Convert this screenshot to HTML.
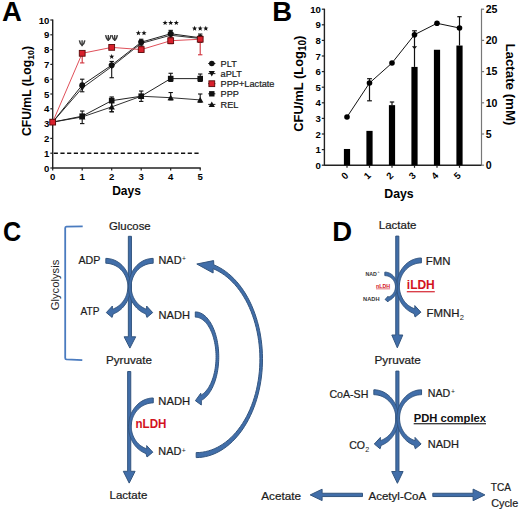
<!DOCTYPE html>
<html><head><meta charset="utf-8"><style>
html,body{margin:0;padding:0;background:#fff;overflow:hidden;width:520px;height:511px;}
svg{display:block;}
text{font-family:"Liberation Sans", sans-serif;}
</style></head><body>
<svg width="520" height="511" viewBox="0 0 520 511" font-family='"Liberation Sans", sans-serif'>
<rect width="520" height="511" fill="#fff"/>
<line x1="52.7" y1="19.5" x2="52.7" y2="168.6" stroke="#222" stroke-width="1.4"/>
<line x1="52.1" y1="168.0" x2="200.79999999999998" y2="168.0" stroke="#222" stroke-width="1.4"/>
<line x1="50.300000000000004" y1="168.0" x2="52.7" y2="168.0" stroke="#222" stroke-width="1.2"/>
<text x="49.400000000000006" y="171.5" text-anchor="end" font-weight="bold" font-size="9.6">0</text>
<line x1="50.300000000000004" y1="153.2" x2="52.7" y2="153.2" stroke="#222" stroke-width="1.2"/>
<text x="49.400000000000006" y="156.7" text-anchor="end" font-weight="bold" font-size="9.6">1</text>
<line x1="50.300000000000004" y1="138.4" x2="52.7" y2="138.4" stroke="#222" stroke-width="1.2"/>
<text x="49.400000000000006" y="141.9" text-anchor="end" font-weight="bold" font-size="9.6">2</text>
<line x1="50.300000000000004" y1="123.6" x2="52.7" y2="123.6" stroke="#222" stroke-width="1.2"/>
<text x="49.400000000000006" y="127.1" text-anchor="end" font-weight="bold" font-size="9.6">3</text>
<line x1="50.300000000000004" y1="108.8" x2="52.7" y2="108.8" stroke="#222" stroke-width="1.2"/>
<text x="49.400000000000006" y="112.3" text-anchor="end" font-weight="bold" font-size="9.6">4</text>
<line x1="50.300000000000004" y1="94.0" x2="52.7" y2="94.0" stroke="#222" stroke-width="1.2"/>
<text x="49.400000000000006" y="97.5" text-anchor="end" font-weight="bold" font-size="9.6">5</text>
<line x1="50.300000000000004" y1="79.19999999999999" x2="52.7" y2="79.19999999999999" stroke="#222" stroke-width="1.2"/>
<text x="49.400000000000006" y="82.69999999999999" text-anchor="end" font-weight="bold" font-size="9.6">6</text>
<line x1="50.300000000000004" y1="64.39999999999999" x2="52.7" y2="64.39999999999999" stroke="#222" stroke-width="1.2"/>
<text x="49.400000000000006" y="67.89999999999999" text-anchor="end" font-weight="bold" font-size="9.6">7</text>
<line x1="50.300000000000004" y1="49.599999999999994" x2="52.7" y2="49.599999999999994" stroke="#222" stroke-width="1.2"/>
<text x="49.400000000000006" y="53.099999999999994" text-anchor="end" font-weight="bold" font-size="9.6">8</text>
<line x1="50.300000000000004" y1="34.79999999999998" x2="52.7" y2="34.79999999999998" stroke="#222" stroke-width="1.2"/>
<text x="49.400000000000006" y="38.29999999999998" text-anchor="end" font-weight="bold" font-size="9.6">9</text>
<line x1="50.300000000000004" y1="20.0" x2="52.7" y2="20.0" stroke="#222" stroke-width="1.2"/>
<text x="49.400000000000006" y="23.5" text-anchor="end" font-weight="bold" font-size="9.6">10</text>
<line x1="52.7" y1="168.0" x2="52.7" y2="170.4" stroke="#222" stroke-width="1.2"/>
<text x="52.7" y="180.2" text-anchor="middle" font-weight="bold" font-size="9.6">0</text>
<line x1="82.2" y1="168.0" x2="82.2" y2="170.4" stroke="#222" stroke-width="1.2"/>
<text x="82.2" y="180.2" text-anchor="middle" font-weight="bold" font-size="9.6">1</text>
<line x1="111.7" y1="168.0" x2="111.7" y2="170.4" stroke="#222" stroke-width="1.2"/>
<text x="111.7" y="180.2" text-anchor="middle" font-weight="bold" font-size="9.6">2</text>
<line x1="141.2" y1="168.0" x2="141.2" y2="170.4" stroke="#222" stroke-width="1.2"/>
<text x="141.2" y="180.2" text-anchor="middle" font-weight="bold" font-size="9.6">3</text>
<line x1="170.7" y1="168.0" x2="170.7" y2="170.4" stroke="#222" stroke-width="1.2"/>
<text x="170.7" y="180.2" text-anchor="middle" font-weight="bold" font-size="9.6">4</text>
<line x1="200.2" y1="168.0" x2="200.2" y2="170.4" stroke="#222" stroke-width="1.2"/>
<text x="200.2" y="180.2" text-anchor="middle" font-weight="bold" font-size="9.6">5</text>
<line x1="53.7" y1="153.2" x2="200.2" y2="153.2" stroke="#111" stroke-width="1.35" stroke-dasharray="4.2 2.5"/>
<text x="126.5" y="195.3" text-anchor="middle" font-weight="bold" font-size="12">Days</text>
<text transform="translate(31.2,91.05) rotate(-90)" text-anchor="middle" font-weight="bold" font-size="12.2">CFU/mL (Log<tspan font-size="8.8" dy="2.5">10</tspan><tspan dy="-2.5">)</tspan></text>
<line x1="82.2" y1="91.77999999999999" x2="82.2" y2="79.19999999999999" stroke="#111" stroke-width="1.1"/><line x1="80.0" y1="91.77999999999999" x2="84.4" y2="91.77999999999999" stroke="#111" stroke-width="1.1"/><line x1="80.0" y1="79.19999999999999" x2="84.4" y2="79.19999999999999" stroke="#111" stroke-width="1.1"/>
<line x1="111.7" y1="77.72" x2="111.7" y2="61.44" stroke="#111" stroke-width="1.1"/><line x1="109.5" y1="77.72" x2="113.9" y2="77.72" stroke="#111" stroke-width="1.1"/><line x1="109.5" y1="61.44" x2="113.9" y2="61.44" stroke="#111" stroke-width="1.1"/>
<line x1="141.2" y1="45.15999999999998" x2="141.2" y2="39.24000000000001" stroke="#111" stroke-width="1.1"/><line x1="139.0" y1="45.15999999999998" x2="143.39999999999998" y2="45.15999999999998" stroke="#111" stroke-width="1.1"/><line x1="139.0" y1="39.24000000000001" x2="143.39999999999998" y2="39.24000000000001" stroke="#111" stroke-width="1.1"/>
<line x1="170.7" y1="37.75999999999999" x2="170.7" y2="30.359999999999985" stroke="#111" stroke-width="1.1"/><line x1="168.5" y1="37.75999999999999" x2="172.89999999999998" y2="37.75999999999999" stroke="#111" stroke-width="1.1"/><line x1="168.5" y1="30.359999999999985" x2="172.89999999999998" y2="30.359999999999985" stroke="#111" stroke-width="1.1"/>
<line x1="200.2" y1="42.19999999999999" x2="200.2" y2="34.059999999999974" stroke="#111" stroke-width="1.1"/><line x1="198.0" y1="42.19999999999999" x2="202.39999999999998" y2="42.19999999999999" stroke="#111" stroke-width="1.1"/><line x1="198.0" y1="34.059999999999974" x2="202.39999999999998" y2="34.059999999999974" stroke="#111" stroke-width="1.1"/>
<line x1="82.2" y1="123.6" x2="82.2" y2="111.02" stroke="#111" stroke-width="1.1"/><line x1="80.0" y1="123.6" x2="84.4" y2="123.6" stroke="#111" stroke-width="1.1"/><line x1="80.0" y1="111.02" x2="84.4" y2="111.02" stroke="#111" stroke-width="1.1"/>
<line x1="111.7" y1="111.75999999999999" x2="111.7" y2="96.96" stroke="#111" stroke-width="1.1"/><line x1="109.5" y1="111.75999999999999" x2="113.9" y2="111.75999999999999" stroke="#111" stroke-width="1.1"/><line x1="109.5" y1="96.96" x2="113.9" y2="96.96" stroke="#111" stroke-width="1.1"/>
<line x1="141.2" y1="101.39999999999999" x2="141.2" y2="91.03999999999999" stroke="#111" stroke-width="1.1"/><line x1="139.0" y1="101.39999999999999" x2="143.39999999999998" y2="101.39999999999999" stroke="#111" stroke-width="1.1"/><line x1="139.0" y1="91.03999999999999" x2="143.39999999999998" y2="91.03999999999999" stroke="#111" stroke-width="1.1"/>
<line x1="170.7" y1="81.42" x2="170.7" y2="73.27999999999999" stroke="#111" stroke-width="1.1"/><line x1="168.5" y1="81.42" x2="172.89999999999998" y2="81.42" stroke="#111" stroke-width="1.1"/><line x1="168.5" y1="73.27999999999999" x2="172.89999999999998" y2="73.27999999999999" stroke="#111" stroke-width="1.1"/>
<line x1="200.2" y1="81.42" x2="200.2" y2="74.02" stroke="#111" stroke-width="1.1"/><line x1="198.0" y1="81.42" x2="202.39999999999998" y2="81.42" stroke="#111" stroke-width="1.1"/><line x1="198.0" y1="74.02" x2="202.39999999999998" y2="74.02" stroke="#111" stroke-width="1.1"/>
<line x1="170.7" y1="99.92" x2="170.7" y2="92.52" stroke="#111" stroke-width="1.1"/><line x1="168.5" y1="99.92" x2="172.89999999999998" y2="99.92" stroke="#111" stroke-width="1.1"/><line x1="168.5" y1="92.52" x2="172.89999999999998" y2="92.52" stroke="#111" stroke-width="1.1"/>
<line x1="200.2" y1="102.14" x2="200.2" y2="94.0" stroke="#111" stroke-width="1.1"/><line x1="198.0" y1="102.14" x2="202.39999999999998" y2="102.14" stroke="#111" stroke-width="1.1"/><line x1="198.0" y1="94.0" x2="202.39999999999998" y2="94.0" stroke="#111" stroke-width="1.1"/>
<line x1="111.7" y1="111.75999999999999" x2="111.7" y2="98.44" stroke="#111" stroke-width="1.1"/><line x1="109.5" y1="111.75999999999999" x2="113.9" y2="111.75999999999999" stroke="#111" stroke-width="1.1"/><line x1="109.5" y1="98.44" x2="113.9" y2="98.44" stroke="#111" stroke-width="1.1"/>
<line x1="82.2" y1="62.92" x2="82.2" y2="53.3" stroke="#d0303a" stroke-width="1.1"/><line x1="80.0" y1="62.92" x2="84.4" y2="62.92" stroke="#d0303a" stroke-width="1.1"/><line x1="80.0" y1="53.3" x2="84.4" y2="53.3" stroke="#d0303a" stroke-width="1.1"/>
<line x1="141.2" y1="51.81999999999999" x2="141.2" y2="46.64" stroke="#d0303a" stroke-width="1.1"/><line x1="139.0" y1="51.81999999999999" x2="143.39999999999998" y2="51.81999999999999" stroke="#d0303a" stroke-width="1.1"/><line x1="139.0" y1="46.64" x2="143.39999999999998" y2="46.64" stroke="#d0303a" stroke-width="1.1"/>
<line x1="170.7" y1="43.67999999999999" x2="170.7" y2="37.02000000000001" stroke="#d0303a" stroke-width="1.1"/><line x1="168.5" y1="43.67999999999999" x2="172.89999999999998" y2="43.67999999999999" stroke="#d0303a" stroke-width="1.1"/><line x1="168.5" y1="37.02000000000001" x2="172.89999999999998" y2="37.02000000000001" stroke="#d0303a" stroke-width="1.1"/>
<line x1="200.2" y1="54.77999999999999" x2="200.2" y2="36.28" stroke="#d0303a" stroke-width="1.1"/><line x1="198.0" y1="54.77999999999999" x2="202.39999999999998" y2="54.77999999999999" stroke="#d0303a" stroke-width="1.1"/><line x1="198.0" y1="36.28" x2="202.39999999999998" y2="36.28" stroke="#d0303a" stroke-width="1.1"/>
<polyline points="52.70,122.12 82.20,116.94 111.70,106.88 141.20,96.22 170.70,97.70 200.20,99.92" fill="none" stroke="#333" stroke-width="1.0"/>
<polyline points="52.70,122.12 82.20,116.20 111.70,100.66 141.20,96.22 170.70,78.61 200.20,78.61" fill="none" stroke="#222" stroke-width="1.0"/>
<polyline points="52.70,122.12 82.20,88.08 111.70,66.62 141.20,43.38 170.70,35.24 200.20,38.50" fill="none" stroke="#333" stroke-width="1.0"/>
<polyline points="52.70,122.12 82.20,85.12 111.70,65.14 141.20,42.20 170.70,33.76 200.20,37.76" fill="none" stroke="#222" stroke-width="1.0"/>
<polyline points="52.70,122.12 82.20,53.30 111.70,47.38 141.20,49.60 170.70,40.72 200.20,39.24" fill="none" stroke="#e0505a" stroke-width="1.0"/>
<path d="M49.5,124.72 L55.900000000000006,124.72 L52.7,119.12 Z" fill="#111"/>
<path d="M79.0,119.53999999999999 L85.4,119.53999999999999 L82.2,113.94 Z" fill="#111"/>
<path d="M108.5,109.476 L114.9,109.476 L111.7,103.876 Z" fill="#111"/>
<path d="M138.0,98.82 L144.39999999999998,98.82 L141.2,93.22 Z" fill="#111"/>
<path d="M167.5,100.3 L173.89999999999998,100.3 L170.7,94.7 Z" fill="#111"/>
<path d="M197.0,102.52 L203.39999999999998,102.52 L200.2,96.92 Z" fill="#111"/>
<rect x="49.900000000000006" y="119.32000000000001" width="5.6" height="5.6" fill="#111"/>
<rect x="79.4" y="113.39999999999999" width="5.6" height="5.6" fill="#111"/>
<rect x="108.9" y="97.86" width="5.6" height="5.6" fill="#111"/>
<rect x="138.39999999999998" y="93.42" width="5.6" height="5.6" fill="#111"/>
<rect x="167.89999999999998" y="75.80799999999999" width="5.6" height="5.6" fill="#111"/>
<rect x="197.39999999999998" y="75.80799999999999" width="5.6" height="5.6" fill="#111"/>
<circle cx="52.7" cy="122.12" r="2.9" fill="#111"/>
<circle cx="82.2" cy="85.12" r="2.9" fill="#111"/>
<circle cx="111.7" cy="65.13999999999999" r="2.9" fill="#111"/>
<circle cx="141.2" cy="42.19999999999999" r="2.9" fill="#111"/>
<circle cx="170.7" cy="33.76399999999998" r="2.9" fill="#111"/>
<circle cx="200.2" cy="37.75999999999999" r="2.9" fill="#111"/>
<path d="M49.5,119.52000000000001 L55.900000000000006,119.52000000000001 L52.7,125.12 Z" fill="#111"/>
<path d="M79.0,85.47999999999999 L85.4,85.47999999999999 L82.2,91.07999999999998 Z" fill="#111"/>
<path d="M108.5,64.02000000000001 L114.9,64.02000000000001 L111.7,69.62 Z" fill="#111"/>
<path d="M138.0,40.784 L144.39999999999998,40.784 L141.2,46.384 Z" fill="#111"/>
<path d="M167.5,32.64399999999997 L173.89999999999998,32.64399999999997 L170.7,38.24399999999997 Z" fill="#111"/>
<path d="M197.0,35.9 L203.39999999999998,35.9 L200.2,41.5 Z" fill="#111"/>
<rect x="49.800000000000004" y="119.22" width="5.8" height="5.8" fill="#d8202c" stroke="#5a0a0a" stroke-width="0.9"/>
<rect x="79.3" y="50.4" width="5.8" height="5.8" fill="#d8202c" stroke="#5a0a0a" stroke-width="0.9"/>
<rect x="108.8" y="44.48" width="5.8" height="5.8" fill="#d8202c" stroke="#5a0a0a" stroke-width="0.9"/>
<rect x="138.29999999999998" y="46.699999999999996" width="5.8" height="5.8" fill="#d8202c" stroke="#5a0a0a" stroke-width="0.9"/>
<rect x="167.79999999999998" y="37.82" width="5.8" height="5.8" fill="#d8202c" stroke="#5a0a0a" stroke-width="0.9"/>
<rect x="197.29999999999998" y="36.34000000000001" width="5.8" height="5.8" fill="#d8202c" stroke="#5a0a0a" stroke-width="0.9"/>
<path d="M79.40,40.30 Q79.90,43.80 82.10,45.20 Q84.30,43.80 84.80,40.30" fill="none" stroke="#3c3c3c" stroke-width="1.5"/><line x1="82.10" y1="40.20" x2="82.10" y2="46.30" stroke="#3c3c3c" stroke-width="1.4"/>
<path d="M105.60,35.10 Q106.10,38.60 108.30,40.00 Q110.50,38.60 111.00,35.10" fill="none" stroke="#3c3c3c" stroke-width="1.5"/><line x1="108.30" y1="35.00" x2="108.30" y2="41.10" stroke="#3c3c3c" stroke-width="1.4"/>
<path d="M112.00,35.10 Q112.50,38.60 114.70,40.00 Q116.90,38.60 117.40,35.10" fill="none" stroke="#3c3c3c" stroke-width="1.5"/><line x1="114.70" y1="35.00" x2="114.70" y2="41.10" stroke="#3c3c3c" stroke-width="1.4"/>
<polygon points="111.70,53.95 112.38,55.77 114.32,55.85 112.79,57.06 113.32,58.92 111.70,57.85 110.08,58.92 110.61,57.06 109.08,55.85 111.02,55.77" fill="#111"/>
<polygon points="138.40,30.35 139.08,32.17 141.02,32.25 139.49,33.46 140.02,35.32 138.40,34.25 136.78,35.32 137.31,33.46 135.78,32.25 137.72,32.17" fill="#111"/><polygon points="144.00,30.35 144.68,32.17 146.62,32.25 145.09,33.46 145.62,35.32 144.00,34.25 142.38,35.32 142.91,33.46 141.38,32.25 143.32,32.17" fill="#111"/>
<polygon points="165.10,20.15 165.78,21.97 167.72,22.05 166.19,23.26 166.72,25.12 165.10,24.05 163.48,25.12 164.01,23.26 162.48,22.05 164.42,21.97" fill="#111"/><polygon points="170.70,20.15 171.38,21.97 173.32,22.05 171.79,23.26 172.32,25.12 170.70,24.05 169.08,25.12 169.61,23.26 168.08,22.05 170.02,21.97" fill="#111"/><polygon points="176.30,20.15 176.98,21.97 178.92,22.05 177.39,23.26 177.92,25.12 176.30,24.05 174.68,25.12 175.21,23.26 173.68,22.05 175.62,21.97" fill="#111"/>
<polygon points="194.60,25.75 195.28,27.57 197.22,27.65 195.69,28.86 196.22,30.72 194.60,29.65 192.98,30.72 193.51,28.86 191.98,27.65 193.92,27.57" fill="#111"/><polygon points="200.20,25.75 200.88,27.57 202.82,27.65 201.29,28.86 201.82,30.72 200.20,29.65 198.58,30.72 199.11,28.86 197.58,27.65 199.52,27.57" fill="#111"/><polygon points="205.80,25.75 206.48,27.57 208.42,27.65 206.89,28.86 207.42,30.72 205.80,29.65 204.18,30.72 204.71,28.86 203.18,27.65 205.12,27.57" fill="#111"/>
<line x1="208.20000000000002" y1="63.5" x2="215.4" y2="63.5" stroke="#222" stroke-width="1"/>
<text x="220.6" y="66.8" font-size="9.2" fill="#1a1a1a" stroke="#1a1a1a" stroke-width="0.2">PLT</text>
<line x1="208.20000000000002" y1="73.6" x2="215.4" y2="73.6" stroke="#222" stroke-width="1"/>
<text x="220.6" y="76.89999999999999" font-size="9.2" fill="#1a1a1a" stroke="#1a1a1a" stroke-width="0.2">aPLT</text>
<line x1="208.20000000000002" y1="83.7" x2="215.4" y2="83.7" stroke="#222" stroke-width="1"/>
<text x="220.6" y="87.0" font-size="9.2" fill="#1a1a1a" stroke="#1a1a1a" stroke-width="0.2">PPP+Lactate</text>
<line x1="208.20000000000002" y1="93.8" x2="215.4" y2="93.8" stroke="#222" stroke-width="1"/>
<text x="220.6" y="97.1" font-size="9.2" fill="#1a1a1a" stroke="#1a1a1a" stroke-width="0.2">PPP</text>
<line x1="208.20000000000002" y1="104.4" x2="215.4" y2="104.4" stroke="#222" stroke-width="1"/>
<text x="220.6" y="107.7" font-size="9.2" fill="#1a1a1a" stroke="#1a1a1a" stroke-width="0.2">REL</text>
<circle cx="211.8" cy="63.5" r="2.8" fill="#111"/>
<path d="M208.70000000000002,71.1 L214.9,71.1 L211.8,76.5 Z" fill="#111"/>
<rect x="208.9" y="80.8" width="5.8" height="5.8" fill="#d8202c" stroke="#5a0a0a" stroke-width="0.9"/>
<rect x="209.10000000000002" y="91.1" width="5.4" height="5.4" fill="#111"/>
<path d="M208.70000000000002,106.9 L214.9,106.9 L211.8,101.5 Z" fill="#111"/>
<text x="2.0" y="21.2" font-size="27.5" font-weight="bold">A</text>
<line x1="324.4" y1="8.699999999999989" x2="324.4" y2="165.79999999999998" stroke="#222" stroke-width="1.4"/>
<line x1="481.5" y1="8.699999999999989" x2="481.5" y2="165.79999999999998" stroke="#777" stroke-width="1.2"/>
<line x1="324.4" y1="165.2" x2="481.5" y2="165.2" stroke="#222" stroke-width="1.4"/>
<line x1="321.79999999999995" y1="165.2" x2="324.4" y2="165.2" stroke="#222" stroke-width="1.2"/>
<text x="320.9" y="168.7" text-anchor="end" font-weight="bold" font-size="9.6">0</text>
<line x1="321.79999999999995" y1="149.6" x2="324.4" y2="149.6" stroke="#222" stroke-width="1.2"/>
<text x="320.9" y="153.1" text-anchor="end" font-weight="bold" font-size="9.6">1</text>
<line x1="321.79999999999995" y1="134.0" x2="324.4" y2="134.0" stroke="#222" stroke-width="1.2"/>
<text x="320.9" y="137.5" text-anchor="end" font-weight="bold" font-size="9.6">2</text>
<line x1="321.79999999999995" y1="118.39999999999999" x2="324.4" y2="118.39999999999999" stroke="#222" stroke-width="1.2"/>
<text x="320.9" y="121.89999999999999" text-anchor="end" font-weight="bold" font-size="9.6">3</text>
<line x1="321.79999999999995" y1="102.79999999999998" x2="324.4" y2="102.79999999999998" stroke="#222" stroke-width="1.2"/>
<text x="320.9" y="106.29999999999998" text-anchor="end" font-weight="bold" font-size="9.6">4</text>
<line x1="321.79999999999995" y1="87.19999999999999" x2="324.4" y2="87.19999999999999" stroke="#222" stroke-width="1.2"/>
<text x="320.9" y="90.69999999999999" text-anchor="end" font-weight="bold" font-size="9.6">5</text>
<line x1="321.79999999999995" y1="71.6" x2="324.4" y2="71.6" stroke="#222" stroke-width="1.2"/>
<text x="320.9" y="75.1" text-anchor="end" font-weight="bold" font-size="9.6">6</text>
<line x1="321.79999999999995" y1="55.999999999999986" x2="324.4" y2="55.999999999999986" stroke="#222" stroke-width="1.2"/>
<text x="320.9" y="59.499999999999986" text-anchor="end" font-weight="bold" font-size="9.6">7</text>
<line x1="321.79999999999995" y1="40.39999999999999" x2="324.4" y2="40.39999999999999" stroke="#222" stroke-width="1.2"/>
<text x="320.9" y="43.89999999999999" text-anchor="end" font-weight="bold" font-size="9.6">8</text>
<line x1="321.79999999999995" y1="24.799999999999983" x2="324.4" y2="24.799999999999983" stroke="#222" stroke-width="1.2"/>
<text x="320.9" y="28.299999999999983" text-anchor="end" font-weight="bold" font-size="9.6">9</text>
<line x1="321.79999999999995" y1="9.199999999999989" x2="324.4" y2="9.199999999999989" stroke="#222" stroke-width="1.2"/>
<text x="320.9" y="12.699999999999989" text-anchor="end" font-weight="bold" font-size="9.6">10</text>
<line x1="481.5" y1="165.2" x2="484.1" y2="165.2" stroke="#777" stroke-width="1.2"/>
<text x="485.7" y="168.89999999999998" font-weight="bold" font-size="10.6">0</text>
<line x1="481.5" y1="134.0" x2="484.1" y2="134.0" stroke="#777" stroke-width="1.2"/>
<text x="485.7" y="137.7" font-weight="bold" font-size="10.6">5</text>
<line x1="481.5" y1="102.79999999999998" x2="484.1" y2="102.79999999999998" stroke="#777" stroke-width="1.2"/>
<text x="485.7" y="106.49999999999999" font-weight="bold" font-size="10.6">10</text>
<line x1="481.5" y1="71.6" x2="484.1" y2="71.6" stroke="#777" stroke-width="1.2"/>
<text x="485.7" y="75.3" font-weight="bold" font-size="10.6">15</text>
<line x1="481.5" y1="40.39999999999999" x2="484.1" y2="40.39999999999999" stroke="#777" stroke-width="1.2"/>
<text x="485.7" y="44.099999999999994" font-weight="bold" font-size="10.6">20</text>
<line x1="481.5" y1="9.199999999999989" x2="484.1" y2="9.199999999999989" stroke="#777" stroke-width="1.2"/>
<text x="485.7" y="12.899999999999988" font-weight="bold" font-size="10.6">25</text>
<line x1="347.0" y1="165.2" x2="347.0" y2="167.79999999999998" stroke="#222" stroke-width="1.2"/>
<text transform="translate(347.2,178.2) rotate(-45)" text-anchor="middle" font-weight="bold" font-size="9.6">0</text>
<line x1="369.5" y1="165.2" x2="369.5" y2="167.79999999999998" stroke="#222" stroke-width="1.2"/>
<text transform="translate(369.7,178.2) rotate(-45)" text-anchor="middle" font-weight="bold" font-size="9.6">1</text>
<line x1="392.0" y1="165.2" x2="392.0" y2="167.79999999999998" stroke="#222" stroke-width="1.2"/>
<text transform="translate(392.2,178.2) rotate(-45)" text-anchor="middle" font-weight="bold" font-size="9.6">2</text>
<line x1="414.5" y1="165.2" x2="414.5" y2="167.79999999999998" stroke="#222" stroke-width="1.2"/>
<text transform="translate(414.7,178.2) rotate(-45)" text-anchor="middle" font-weight="bold" font-size="9.6">3</text>
<line x1="437.0" y1="165.2" x2="437.0" y2="167.79999999999998" stroke="#222" stroke-width="1.2"/>
<text transform="translate(437.2,178.2) rotate(-45)" text-anchor="middle" font-weight="bold" font-size="9.6">4</text>
<line x1="459.5" y1="165.2" x2="459.5" y2="167.79999999999998" stroke="#222" stroke-width="1.2"/>
<text transform="translate(459.7,178.2) rotate(-45)" text-anchor="middle" font-weight="bold" font-size="9.6">5</text>
<rect x="343.9" y="148.976" width="6.2" height="16.22399999999999" fill="#000"/>
<rect x="366.4" y="130.88" width="6.2" height="34.31999999999999" fill="#000"/>
<rect x="388.9" y="105.13999999999999" width="6.2" height="60.06" fill="#000"/>
<rect x="411.4" y="66.91999999999999" width="6.2" height="98.28" fill="#000"/>
<rect x="433.9" y="49.75999999999999" width="6.2" height="115.44" fill="#000"/>
<rect x="456.4" y="45.54799999999999" width="6.2" height="119.652" fill="#000"/>
<line x1="392.0" y1="102" x2="392.0" y2="105.13999999999999" stroke="#111" stroke-width="1.2"/>
<line x1="389.8" y1="102" x2="394.2" y2="102" stroke="#111" stroke-width="1.2"/>
<line x1="414.5" y1="30.8" x2="414.5" y2="66.91999999999999" stroke="#111" stroke-width="1.2"/>
<line x1="412.1" y1="30.8" x2="416.9" y2="30.8" stroke="#111" stroke-width="1.2"/>
<path d="M411.9,46.2 L417.1,46.2 L414.5,49.2 Z" fill="#111"/>
<line x1="459.5" y1="16.7" x2="459.5" y2="45.54799999999999" stroke="#111" stroke-width="1.2"/>
<line x1="457.3" y1="16.7" x2="461.7" y2="16.7" stroke="#111" stroke-width="1.2"/>
<line x1="369.5" y1="78.7" x2="369.5" y2="100.8" stroke="#111" stroke-width="1.2"/>
<line x1="367.1" y1="78.7" x2="371.9" y2="78.7" stroke="#111" stroke-width="1.2"/>
<line x1="367.1" y1="100.8" x2="371.9" y2="100.8" stroke="#111" stroke-width="1.2"/>
<polyline points="347.00,117 369.50,83 392.00,63 414.50,34.7 437.00,23.3 459.50,28.0" fill="none" stroke="#111" stroke-width="1.0"/>
<circle cx="347.0" cy="117" r="2.8" fill="#000"/>
<circle cx="369.5" cy="83" r="2.8" fill="#000"/>
<circle cx="392.0" cy="63" r="2.8" fill="#000"/>
<circle cx="414.5" cy="34.7" r="2.8" fill="#000"/>
<circle cx="437.0" cy="23.3" r="2.8" fill="#000"/>
<circle cx="459.5" cy="28.0" r="2.8" fill="#000"/>
<text x="399" y="198.3" text-anchor="middle" font-weight="bold" font-size="12.3">Days</text>
<text transform="translate(303.4,83.7) rotate(-90)" text-anchor="middle" font-weight="bold" font-size="12.9">CFU/mL (Log<tspan font-size="10" dy="2.6">10</tspan><tspan dy="-2.6">)</tspan></text>
<text transform="translate(505.8,84.4) rotate(90)" text-anchor="middle" font-weight="bold" font-size="13.3">Lactate (mM)</text>
<text x="272.2" y="20.9" font-size="27.5" font-weight="bold">B</text>
<path d="M82.7,226.3 L66.4,226.6 Q65.2,226.7 65.2,228 L65.2,358 Q65.2,359.3 66.5,359.4 L82.3,360.2" fill="none" stroke="#4A7BBF" stroke-width="1.8"/>
<text transform="translate(58.7,310.3) rotate(-90)" font-size="11" fill="#1c1c1c" textLength="50.7" lengthAdjust="spacingAndGlyphs">Glycolysis</text>
<path d="M128.35,236.3 L131.45000000000002,236.3 L131.45000000000002,336.8 L135.70000000000002,336.8 L129.9,348.1 L124.10000000000001,336.8 L128.35,336.8 Z" fill="#416EA9" stroke="#33557F" stroke-width="1.0" stroke-linejoin="miter"/>
<path d="M105.84,258.40 L107.01,258.43 L108.18,258.53 L109.34,258.69 L110.50,258.91 L111.64,259.19 L112.77,259.54 L113.89,259.95 L114.98,260.42 L116.06,260.94 L117.12,261.53 L118.14,262.17 L119.15,262.87 L120.12,263.62 L121.06,264.42 L121.96,265.28 L122.83,266.18 L123.66,267.13 L124.45,268.12 L125.20,269.15 L125.91,270.23 L126.57,271.34 L127.18,272.48 L127.75,273.66 L128.26,274.87 L128.73,276.10 L129.15,277.36 L129.51,278.64 L129.82,279.94 L130.07,281.25 L130.28,282.58 L130.42,283.91 L130.51,285.25 L130.55,286.60 L130.53,287.94 L130.46,289.29 L130.32,290.62 L130.14,291.95 L129.90,293.27 L129.61,294.57 L129.26,295.86 L128.86,297.12 L128.41,298.36 L127.91,299.58 L127.35,300.77 L126.76,301.92 L126.11,303.04 L125.42,304.13 L124.68,305.18 L123.90,306.18 L123.08,307.14 L122.22,308.06 L121.33,308.93 L120.40,309.75 L119.44,310.51 L118.45,311.23 L117.43,311.89 L116.38,312.49 L115.31,313.03 L114.22,313.52 L113.11,313.94 L112.10,317.40 L106.30,312.60 L112.40,306.00 L112.31,309.26 L113.30,308.91 L114.27,308.51 L115.23,308.06 L116.16,307.56 L117.07,307.01 L117.95,306.42 L118.81,305.79 L119.64,305.11 L120.43,304.39 L121.20,303.63 L121.93,302.84 L122.62,302.01 L123.28,301.14 L123.89,300.24 L124.47,299.31 L125.00,298.36 L125.50,297.38 L125.94,296.37 L126.34,295.34 L126.70,294.30 L127.01,293.23 L127.27,292.15 L127.48,291.06 L127.65,289.96 L127.77,288.86 L127.83,287.75 L127.85,286.63 L127.82,285.52 L127.74,284.41 L127.61,283.31 L127.43,282.21 L127.20,281.12 L126.92,280.05 L126.60,278.99 L126.23,277.95 L125.81,276.93 L125.35,275.93 L124.85,274.95 L124.30,274.01 L123.71,273.09 L123.09,272.20 L122.42,271.34 L121.71,270.52 L120.97,269.74 L120.20,268.99 L119.39,268.28 L118.56,267.62 L117.69,267.00 L116.80,266.42 L115.88,265.89 L114.94,265.40 L113.99,264.97 L113.01,264.58 L112.01,264.24 L111.01,263.96 L109.99,263.72 L108.96,263.54 L107.92,263.41 L106.88,263.33 L105.84,263.30 Z" fill="#416EA9" stroke="#33557F" stroke-width="1.0" stroke-linejoin="round"/>
<path d="M153.16,258.40 L151.99,258.43 L150.82,258.53 L149.66,258.69 L148.50,258.91 L147.36,259.19 L146.23,259.54 L145.11,259.95 L144.02,260.42 L142.94,260.94 L141.88,261.53 L140.86,262.17 L139.85,262.87 L138.88,263.62 L137.94,264.42 L137.04,265.28 L136.17,266.18 L135.34,267.13 L134.55,268.12 L133.80,269.15 L133.09,270.23 L132.43,271.34 L131.82,272.48 L131.25,273.66 L130.74,274.87 L130.27,276.10 L129.85,277.36 L129.49,278.64 L129.18,279.94 L128.93,281.25 L128.72,282.58 L128.58,283.91 L128.49,285.25 L128.45,286.60 L128.47,287.94 L128.54,289.29 L128.68,290.62 L128.86,291.95 L129.10,293.27 L129.39,294.57 L129.74,295.86 L130.14,297.12 L130.59,298.36 L131.09,299.58 L131.65,300.77 L132.24,301.92 L132.89,303.04 L133.58,304.13 L134.32,305.18 L135.10,306.18 L135.92,307.14 L136.78,308.06 L137.67,308.93 L138.60,309.75 L139.56,310.51 L140.55,311.23 L141.57,311.89 L142.62,312.49 L143.69,313.03 L144.78,313.52 L145.89,313.94 L146.90,317.40 L152.70,312.60 L146.60,306.00 L146.69,309.26 L145.70,308.91 L144.73,308.51 L143.77,308.06 L142.84,307.56 L141.93,307.01 L141.05,306.42 L140.19,305.79 L139.36,305.11 L138.57,304.39 L137.80,303.63 L137.07,302.84 L136.38,302.01 L135.72,301.14 L135.11,300.24 L134.53,299.31 L134.00,298.36 L133.50,297.38 L133.06,296.37 L132.66,295.34 L132.30,294.30 L131.99,293.23 L131.73,292.15 L131.52,291.06 L131.35,289.96 L131.23,288.86 L131.17,287.75 L131.15,286.63 L131.18,285.52 L131.26,284.41 L131.39,283.31 L131.57,282.21 L131.80,281.12 L132.08,280.05 L132.40,278.99 L132.77,277.95 L133.19,276.93 L133.65,275.93 L134.15,274.95 L134.70,274.01 L135.29,273.09 L135.91,272.20 L136.58,271.34 L137.29,270.52 L138.03,269.74 L138.80,268.99 L139.61,268.28 L140.44,267.62 L141.31,267.00 L142.20,266.42 L143.12,265.89 L144.06,265.40 L145.01,264.97 L145.99,264.58 L146.99,264.24 L147.99,263.96 L149.01,263.72 L150.04,263.54 L151.08,263.41 L152.12,263.33 L153.16,263.30 Z" fill="#416EA9" stroke="#33557F" stroke-width="1.0" stroke-linejoin="round"/>
<path d="M127.64999999999999,371.5 L130.75,371.5 L130.75,471.3 L135.1,471.3 L129.2,483.1 L123.29999999999998,471.3 L127.64999999999999,471.3 Z" fill="#416EA9" stroke="#33557F" stroke-width="1.0" stroke-linejoin="miter"/>
<path d="M153.26,398.00 L152.09,398.03 L150.92,398.13 L149.76,398.29 L148.60,398.51 L147.46,398.79 L146.33,399.14 L145.21,399.55 L144.12,400.02 L143.04,400.54 L141.98,401.13 L140.96,401.77 L139.95,402.47 L138.98,403.22 L138.04,404.02 L137.14,404.88 L136.27,405.78 L135.44,406.73 L134.65,407.72 L133.90,408.75 L133.19,409.83 L132.53,410.94 L131.92,412.08 L131.35,413.26 L130.84,414.47 L130.37,415.70 L129.95,416.96 L129.59,418.24 L129.28,419.54 L129.03,420.85 L128.82,422.18 L128.68,423.51 L128.59,424.85 L128.55,426.20 L128.57,427.54 L128.64,428.89 L128.78,430.22 L128.96,431.55 L129.20,432.87 L129.49,434.17 L129.84,435.46 L130.24,436.72 L130.69,437.96 L131.19,439.18 L131.75,440.37 L132.34,441.52 L132.99,442.64 L133.68,443.73 L134.42,444.78 L135.20,445.78 L136.02,446.74 L136.88,447.66 L137.77,448.53 L138.70,449.35 L139.66,450.11 L140.65,450.83 L141.67,451.49 L142.72,452.09 L143.79,452.63 L144.88,453.12 L145.99,453.54 L147.00,457.00 L152.80,452.20 L146.70,445.60 L146.79,448.86 L145.80,448.51 L144.83,448.11 L143.87,447.66 L142.94,447.16 L142.03,446.61 L141.15,446.02 L140.29,445.39 L139.46,444.71 L138.67,443.99 L137.90,443.23 L137.17,442.44 L136.48,441.61 L135.82,440.74 L135.21,439.84 L134.63,438.91 L134.10,437.96 L133.60,436.98 L133.16,435.97 L132.76,434.94 L132.40,433.90 L132.09,432.83 L131.83,431.75 L131.62,430.66 L131.45,429.56 L131.33,428.46 L131.27,427.35 L131.25,426.23 L131.28,425.12 L131.36,424.01 L131.49,422.91 L131.67,421.81 L131.90,420.72 L132.18,419.65 L132.50,418.59 L132.87,417.55 L133.29,416.53 L133.75,415.53 L134.25,414.55 L134.80,413.61 L135.39,412.69 L136.01,411.80 L136.68,410.94 L137.39,410.12 L138.13,409.34 L138.90,408.59 L139.71,407.88 L140.54,407.22 L141.41,406.60 L142.30,406.02 L143.22,405.49 L144.16,405.00 L145.11,404.57 L146.09,404.18 L147.09,403.84 L148.09,403.56 L149.11,403.32 L150.14,403.14 L151.18,403.01 L152.22,402.93 L153.26,402.90 Z" fill="#416EA9" stroke="#33557F" stroke-width="1.0" stroke-linejoin="round"/>
<path d="M195.30,311.90 L196.43,311.95 L197.55,312.11 L198.66,312.37 L199.77,312.73 L200.87,313.19 L201.96,313.75 L203.03,314.42 L204.08,315.18 L205.12,316.03 L206.13,316.98 L207.11,318.03 L208.07,319.16 L209.00,320.38 L209.90,321.68 L210.76,323.07 L211.59,324.53 L212.38,326.07 L213.13,327.67 L213.84,329.35 L214.51,331.09 L215.13,332.89 L215.71,334.74 L216.24,336.65 L216.72,338.60 L217.16,340.59 L217.54,342.62 L217.87,344.69 L218.15,346.78 L218.38,348.89 L218.55,351.03 L218.67,353.17 L218.74,355.33 L218.75,357.49 L218.71,359.65 L218.61,361.80 L218.46,363.94 L218.26,366.06 L218.00,368.17 L217.70,370.24 L217.34,372.29 L216.93,374.30 L216.47,376.27 L215.96,378.20 L215.40,380.08 L214.80,381.90 L214.15,383.67 L213.46,385.37 L212.73,387.01 L211.95,388.58 L211.14,390.08 L210.29,391.50 L209.41,392.84 L208.50,394.10 L207.55,395.27 L206.58,396.35 L205.58,397.35 L204.56,398.25 L203.51,399.05 L202.45,399.76 L201.37,400.37 L201.30,405.00 L195.40,400.70 L200.80,393.20 L200.67,395.34 L201.63,394.81 L202.57,394.18 L203.49,393.47 L204.40,392.67 L205.28,391.79 L206.14,390.84 L206.98,389.80 L207.79,388.69 L208.57,387.50 L209.32,386.24 L210.04,384.92 L210.72,383.53 L211.37,382.08 L211.98,380.57 L212.55,379.01 L213.09,377.40 L213.58,375.74 L214.03,374.03 L214.44,372.29 L214.80,370.51 L215.12,368.70 L215.39,366.87 L215.62,365.00 L215.79,363.13 L215.93,361.23 L216.01,359.33 L216.05,357.42 L216.04,355.51 L215.98,353.60 L215.87,351.71 L215.72,349.82 L215.52,347.95 L215.27,346.10 L214.98,344.27 L214.64,342.47 L214.26,340.71 L213.83,338.99 L213.36,337.30 L212.85,335.66 L212.30,334.07 L211.71,332.53 L211.08,331.05 L210.41,329.63 L209.71,328.27 L208.98,326.98 L208.22,325.75 L207.42,324.60 L206.60,323.52 L205.75,322.52 L204.88,321.60 L203.99,320.76 L203.07,320.00 L202.14,319.33 L201.19,318.74 L200.23,318.24 L199.26,317.83 L198.28,317.51 L197.29,317.28 L196.30,317.15 L195.30,317.10 Z" fill="#416EA9" stroke="#33557F" stroke-width="1.0" stroke-linejoin="round"/>
<path d="M196.20,457.60 L199.37,457.48 L202.54,457.13 L205.69,456.56 L208.82,455.77 L211.92,454.75 L214.99,453.52 L218.01,452.07 L220.98,450.41 L223.89,448.54 L226.75,446.46 L229.53,444.19 L232.23,441.72 L234.85,439.06 L237.39,436.22 L239.83,433.20 L242.17,430.01 L244.40,426.67 L246.52,423.16 L248.53,419.52 L250.42,415.73 L252.19,411.82 L253.82,407.78 L255.32,403.64 L256.69,399.39 L257.92,395.05 L259.01,390.64 L259.95,386.15 L260.75,381.59 L261.40,376.99 L261.90,372.35 L262.25,367.68 L262.45,362.99 L262.50,358.29 L262.39,353.60 L262.13,348.92 L261.73,344.26 L261.17,339.64 L260.46,335.06 L259.61,330.54 L258.61,326.09 L257.46,321.71 L256.18,317.42 L254.76,313.23 L253.20,309.14 L251.52,305.17 L249.71,301.32 L247.77,297.61 L245.72,294.03 L243.55,290.61 L241.28,287.35 L238.90,284.25 L236.42,281.32 L233.85,278.57 L231.20,276.01 L228.46,273.64 L225.65,271.46 L222.77,269.49 L219.84,267.72 L216.85,266.16 L213.81,264.82 L213.60,260.60 L196.80,264.00 L213.10,273.00 L213.12,268.67 L216.04,269.98 L218.91,271.49 L221.73,273.20 L224.50,275.10 L227.20,277.20 L229.82,279.49 L232.37,281.96 L234.84,284.60 L237.22,287.42 L239.51,290.40 L241.69,293.54 L243.78,296.83 L245.75,300.26 L247.61,303.82 L249.35,307.51 L250.97,311.32 L252.46,315.24 L253.83,319.25 L255.06,323.36 L256.16,327.55 L257.12,331.81 L257.94,336.14 L258.62,340.51 L259.16,344.93 L259.55,349.38 L259.80,353.85 L259.90,358.33 L259.85,362.82 L259.66,367.29 L259.33,371.75 L258.84,376.17 L258.22,380.56 L257.45,384.90 L256.55,389.17 L255.50,393.38 L254.32,397.51 L253.01,401.55 L251.56,405.49 L249.99,409.33 L248.29,413.05 L246.48,416.64 L244.55,420.10 L242.51,423.43 L240.36,426.60 L238.12,429.62 L235.77,432.48 L233.34,435.17 L230.82,437.69 L228.22,440.02 L225.55,442.17 L222.81,444.13 L220.01,445.89 L217.15,447.46 L214.25,448.82 L211.30,449.98 L208.33,450.92 L205.32,451.66 L202.29,452.19 L199.25,452.50 L196.20,452.60 Z" fill="#416EA9" stroke="#33557F" stroke-width="1.0" stroke-linejoin="round"/>
<text x="109" y="229.6" font-size="11" font-weight="normal" fill="#1c1c1c" textLength="41.7" lengthAdjust="spacingAndGlyphs" stroke="#1c1c1c" stroke-width="0.22">Glucose</text>
<text x="78.4" y="263.7" font-size="11" font-weight="normal" fill="#1c1c1c" textLength="21.9" lengthAdjust="spacingAndGlyphs" stroke="#1c1c1c" stroke-width="0.22">ADP</text>
<text x="158.5" y="263.9" font-size="11" font-weight="normal" fill="#1c1c1c" textLength="23" lengthAdjust="spacingAndGlyphs" stroke="#1c1c1c" stroke-width="0.22">NAD</text><text x="181.9" y="261.0" font-size="7" font-weight="normal" fill="#1c1c1c" textLength="4.0" lengthAdjust="spacingAndGlyphs">+</text>
<text x="80.5" y="315.1" font-size="11" font-weight="normal" fill="#1c1c1c" textLength="18.9" lengthAdjust="spacingAndGlyphs" stroke="#1c1c1c" stroke-width="0.22">ATP</text>
<text x="158.5" y="318.6" font-size="11" font-weight="normal" fill="#1c1c1c" textLength="31.4" lengthAdjust="spacingAndGlyphs" stroke="#1c1c1c" stroke-width="0.22">NADH</text>
<text x="106" y="364.4" font-size="11" font-weight="normal" fill="#1c1c1c" textLength="45.9" lengthAdjust="spacingAndGlyphs" stroke="#1c1c1c" stroke-width="0.22">Pyruvate</text>
<text x="158.3" y="404.6" font-size="11" font-weight="normal" fill="#1c1c1c" textLength="31.8" lengthAdjust="spacingAndGlyphs" stroke="#1c1c1c" stroke-width="0.22">NADH</text>
<text x="135.5" y="427.9" font-size="12.6" font-weight="bold" fill="#D2121E" textLength="30.9" lengthAdjust="spacingAndGlyphs">nLDH</text>
<text x="158.3" y="455.4" font-size="11" font-weight="normal" fill="#1c1c1c" textLength="23" lengthAdjust="spacingAndGlyphs" stroke="#1c1c1c" stroke-width="0.22">NAD</text><text x="181.7" y="452.5" font-size="7" font-weight="normal" fill="#1c1c1c" textLength="4.0" lengthAdjust="spacingAndGlyphs">+</text>
<text x="109.5" y="499.0" font-size="11" font-weight="normal" fill="#1c1c1c" textLength="37.8" lengthAdjust="spacingAndGlyphs" stroke="#1c1c1c" stroke-width="0.22">Lactate</text>
<text x="2.9" y="240.8" font-size="27.5" font-weight="bold" textLength="18.2" lengthAdjust="spacingAndGlyphs">C</text>
<path d="M395.75,236.1 L398.85,236.1 L398.85,335.0 L402.8,335.0 L397.3,347.8 L391.8,335.0 L395.75,335.0 Z" fill="#416EA9" stroke="#33557F" stroke-width="1.0" stroke-linejoin="miter"/>
<path d="M421.36,258.00 L420.19,258.03 L419.02,258.13 L417.86,258.29 L416.70,258.51 L415.56,258.79 L414.43,259.14 L413.31,259.55 L412.22,260.02 L411.14,260.54 L410.08,261.13 L409.06,261.77 L408.05,262.47 L407.08,263.22 L406.14,264.02 L405.24,264.88 L404.37,265.78 L403.54,266.73 L402.75,267.72 L402.00,268.75 L401.29,269.83 L400.63,270.94 L400.02,272.08 L399.45,273.26 L398.94,274.47 L398.47,275.70 L398.05,276.96 L397.69,278.24 L397.38,279.54 L397.13,280.85 L396.92,282.18 L396.78,283.51 L396.69,284.85 L396.65,286.20 L396.67,287.54 L396.74,288.89 L396.88,290.22 L397.06,291.55 L397.30,292.87 L397.59,294.17 L397.94,295.46 L398.34,296.72 L398.79,297.96 L399.29,299.18 L399.85,300.37 L400.44,301.52 L401.09,302.64 L401.78,303.73 L402.52,304.78 L403.30,305.78 L404.12,306.74 L404.98,307.66 L405.87,308.53 L406.80,309.35 L407.76,310.11 L408.75,310.83 L409.77,311.49 L410.82,312.09 L411.89,312.63 L412.98,313.12 L414.09,313.54 L415.10,317.00 L420.90,312.20 L414.80,305.60 L414.89,308.86 L413.90,308.51 L412.93,308.11 L411.97,307.66 L411.04,307.16 L410.13,306.61 L409.25,306.02 L408.39,305.39 L407.56,304.71 L406.77,303.99 L406.00,303.23 L405.27,302.44 L404.58,301.61 L403.92,300.74 L403.31,299.84 L402.73,298.91 L402.20,297.96 L401.70,296.98 L401.26,295.97 L400.86,294.94 L400.50,293.90 L400.19,292.83 L399.93,291.75 L399.72,290.66 L399.55,289.56 L399.43,288.46 L399.37,287.35 L399.35,286.23 L399.38,285.12 L399.46,284.01 L399.59,282.91 L399.77,281.81 L400.00,280.72 L400.28,279.65 L400.60,278.59 L400.97,277.55 L401.39,276.53 L401.85,275.53 L402.35,274.55 L402.90,273.61 L403.49,272.69 L404.11,271.80 L404.78,270.94 L405.49,270.12 L406.23,269.34 L407.00,268.59 L407.81,267.88 L408.64,267.22 L409.51,266.60 L410.40,266.02 L411.32,265.49 L412.26,265.00 L413.21,264.57 L414.19,264.18 L415.19,263.84 L416.19,263.56 L417.21,263.32 L418.24,263.14 L419.28,263.01 L420.32,262.93 L421.36,262.90 Z" fill="#416EA9" stroke="#33557F" stroke-width="1.0" stroke-linejoin="round"/>
<path d="M384.87,272.12 L385.46,272.13 L386.06,272.18 L386.65,272.26 L387.23,272.38 L387.81,272.52 L388.39,272.70 L388.95,272.91 L389.51,273.15 L390.06,273.42 L390.59,273.73 L391.11,274.06 L391.62,274.41 L392.11,274.80 L392.59,275.21 L393.05,275.65 L393.49,276.12 L393.91,276.60 L394.31,277.11 L394.69,277.65 L395.05,278.20 L395.38,278.77 L395.69,279.36 L395.98,279.96 L396.24,280.59 L396.48,281.22 L396.69,281.87 L396.88,282.53 L397.03,283.19 L397.16,283.87 L397.26,284.55 L397.34,285.24 L397.38,285.93 L397.40,286.62 L397.39,287.31 L397.36,288.00 L397.29,288.69 L397.20,289.37 L397.07,290.05 L396.92,290.72 L396.75,291.38 L396.55,292.03 L396.32,292.67 L396.06,293.29 L395.78,293.90 L395.48,294.50 L395.15,295.07 L394.80,295.63 L394.43,296.17 L394.03,296.69 L393.62,297.18 L393.18,297.65 L392.73,298.10 L392.26,298.52 L391.77,298.91 L391.26,299.28 L390.75,299.62 L390.22,299.93 L389.67,300.21 L389.12,300.46 L388.56,300.68 L387.97,301.87 L385.10,299.49 L388.12,296.22 L387.99,297.32 L388.46,297.15 L388.93,296.96 L389.39,296.75 L389.84,296.51 L390.28,296.26 L390.70,295.98 L391.11,295.68 L391.51,295.36 L391.90,295.02 L392.26,294.66 L392.62,294.29 L392.95,293.89 L393.26,293.49 L393.56,293.06 L393.84,292.62 L394.10,292.17 L394.33,291.71 L394.55,291.24 L394.74,290.75 L394.91,290.26 L395.06,289.76 L395.19,289.25 L395.29,288.73 L395.37,288.21 L395.42,287.69 L395.46,287.17 L395.47,286.64 L395.45,286.12 L395.41,285.59 L395.35,285.07 L395.26,284.55 L395.15,284.04 L395.02,283.54 L394.86,283.04 L394.69,282.54 L394.49,282.06 L394.26,281.59 L394.02,281.13 L393.76,280.68 L393.47,280.25 L393.17,279.83 L392.85,279.43 L392.51,279.04 L392.16,278.67 L391.78,278.32 L391.40,277.99 L390.99,277.67 L390.58,277.38 L390.15,277.11 L389.71,276.86 L389.25,276.63 L388.79,276.42 L388.32,276.24 L387.84,276.08 L387.36,275.94 L386.87,275.83 L386.37,275.75 L385.87,275.68 L385.37,275.65 L384.87,275.63 Z" fill="#416EA9" stroke="#33557F" stroke-width="1.0" stroke-linejoin="round"/>
<path d="M395.84999999999997,371.1 L398.95,371.1 L398.95,471.5 L403.09999999999997,471.5 L397.4,483.3 L391.7,471.5 L395.84999999999997,471.5 Z" fill="#416EA9" stroke="#33557F" stroke-width="1.0" stroke-linejoin="miter"/>
<path d="M373.84,389.80 L375.01,389.83 L376.18,389.93 L377.34,390.09 L378.50,390.31 L379.64,390.59 L380.77,390.94 L381.89,391.35 L382.98,391.82 L384.06,392.34 L385.12,392.93 L386.14,393.57 L387.15,394.27 L388.12,395.02 L389.06,395.82 L389.96,396.68 L390.83,397.58 L391.66,398.53 L392.45,399.52 L393.20,400.55 L393.91,401.63 L394.57,402.74 L395.18,403.88 L395.75,405.06 L396.26,406.27 L396.73,407.50 L397.15,408.76 L397.51,410.04 L397.82,411.34 L398.07,412.65 L398.28,413.98 L398.42,415.31 L398.51,416.65 L398.55,418.00 L398.53,419.34 L398.46,420.69 L398.32,422.02 L398.14,423.35 L397.90,424.67 L397.61,425.97 L397.26,427.26 L396.86,428.52 L396.41,429.76 L395.91,430.98 L395.35,432.17 L394.76,433.32 L394.11,434.44 L393.42,435.53 L392.68,436.58 L391.90,437.58 L391.08,438.54 L390.22,439.46 L389.33,440.33 L388.40,441.15 L387.44,441.91 L386.45,442.63 L385.43,443.29 L384.38,443.89 L383.31,444.43 L382.22,444.92 L381.11,445.34 L380.10,448.80 L374.30,444.00 L380.40,437.40 L380.31,440.66 L381.30,440.31 L382.27,439.91 L383.23,439.46 L384.16,438.96 L385.07,438.41 L385.95,437.82 L386.81,437.19 L387.64,436.51 L388.43,435.79 L389.20,435.03 L389.93,434.24 L390.62,433.41 L391.28,432.54 L391.89,431.64 L392.47,430.71 L393.00,429.76 L393.50,428.78 L393.94,427.77 L394.34,426.74 L394.70,425.70 L395.01,424.63 L395.27,423.55 L395.48,422.46 L395.65,421.36 L395.77,420.26 L395.83,419.15 L395.85,418.03 L395.82,416.92 L395.74,415.81 L395.61,414.71 L395.43,413.61 L395.20,412.52 L394.92,411.45 L394.60,410.39 L394.23,409.35 L393.81,408.33 L393.35,407.33 L392.85,406.35 L392.30,405.41 L391.71,404.49 L391.09,403.60 L390.42,402.74 L389.71,401.92 L388.97,401.14 L388.20,400.39 L387.39,399.68 L386.56,399.02 L385.69,398.40 L384.80,397.82 L383.88,397.29 L382.94,396.80 L381.99,396.37 L381.01,395.98 L380.01,395.64 L379.01,395.36 L377.99,395.12 L376.96,394.94 L375.92,394.81 L374.88,394.73 L373.84,394.70 Z" fill="#416EA9" stroke="#33557F" stroke-width="1.0" stroke-linejoin="round"/>
<path d="M421.56,389.80 L420.39,389.83 L419.22,389.93 L418.06,390.09 L416.90,390.31 L415.76,390.59 L414.63,390.94 L413.51,391.35 L412.42,391.82 L411.34,392.34 L410.28,392.93 L409.26,393.57 L408.25,394.27 L407.28,395.02 L406.34,395.82 L405.44,396.68 L404.57,397.58 L403.74,398.53 L402.95,399.52 L402.20,400.55 L401.49,401.63 L400.83,402.74 L400.22,403.88 L399.65,405.06 L399.14,406.27 L398.67,407.50 L398.25,408.76 L397.89,410.04 L397.58,411.34 L397.33,412.65 L397.12,413.98 L396.98,415.31 L396.89,416.65 L396.85,418.00 L396.87,419.34 L396.94,420.69 L397.08,422.02 L397.26,423.35 L397.50,424.67 L397.79,425.97 L398.14,427.26 L398.54,428.52 L398.99,429.76 L399.49,430.98 L400.05,432.17 L400.64,433.32 L401.29,434.44 L401.98,435.53 L402.72,436.58 L403.50,437.58 L404.32,438.54 L405.18,439.46 L406.07,440.33 L407.00,441.15 L407.96,441.91 L408.95,442.63 L409.97,443.29 L411.02,443.89 L412.09,444.43 L413.18,444.92 L414.29,445.34 L415.30,448.80 L421.10,444.00 L415.00,437.40 L415.09,440.66 L414.10,440.31 L413.13,439.91 L412.17,439.46 L411.24,438.96 L410.33,438.41 L409.45,437.82 L408.59,437.19 L407.76,436.51 L406.97,435.79 L406.20,435.03 L405.47,434.24 L404.78,433.41 L404.12,432.54 L403.51,431.64 L402.93,430.71 L402.40,429.76 L401.90,428.78 L401.46,427.77 L401.06,426.74 L400.70,425.70 L400.39,424.63 L400.13,423.55 L399.92,422.46 L399.75,421.36 L399.63,420.26 L399.57,419.15 L399.55,418.03 L399.58,416.92 L399.66,415.81 L399.79,414.71 L399.97,413.61 L400.20,412.52 L400.48,411.45 L400.80,410.39 L401.17,409.35 L401.59,408.33 L402.05,407.33 L402.55,406.35 L403.10,405.41 L403.69,404.49 L404.31,403.60 L404.98,402.74 L405.69,401.92 L406.43,401.14 L407.20,400.39 L408.01,399.68 L408.84,399.02 L409.71,398.40 L410.60,397.82 L411.52,397.29 L412.46,396.80 L413.41,396.37 L414.39,395.98 L415.39,395.64 L416.39,395.36 L417.41,395.12 L418.44,394.94 L419.48,394.81 L420.52,394.73 L421.56,394.70 Z" fill="#416EA9" stroke="#33557F" stroke-width="1.0" stroke-linejoin="round"/>
<path d="M362.5,493.25 L362.5,496.54999999999995 L322.1,496.54999999999995 L322.1,500.59999999999997 L310.2,494.9 L322.1,489.2 L322.1,493.25 Z" fill="#416EA9" stroke="#33557F" stroke-width="1.0" stroke-linejoin="miter"/>
<path d="M432.8,493.25 L432.8,496.54999999999995 L473.1,496.54999999999995 L473.1,500.7 L484.9,494.9 L473.1,489.09999999999997 L473.1,493.25 Z" fill="#416EA9" stroke="#33557F" stroke-width="1.0" stroke-linejoin="miter"/>
<text x="378.8" y="228.7" font-size="11" font-weight="normal" fill="#1c1c1c" textLength="37.7" lengthAdjust="spacingAndGlyphs" stroke="#1c1c1c" stroke-width="0.22">Lactate</text>
<text x="425.8" y="264.5" font-size="11" font-weight="normal" fill="#1c1c1c" textLength="24.7" lengthAdjust="spacingAndGlyphs" stroke="#1c1c1c" stroke-width="0.22">FMN</text>
<text x="406.8" y="289.3" font-size="13" font-weight="bold" fill="#D2121E" textLength="28.0" lengthAdjust="spacingAndGlyphs">iLDH</text>
<rect x="406.8" y="291.2" width="28" height="1.1" fill="#D2121E"/>
<text x="426.5" y="316.8" font-size="11" font-weight="normal" fill="#1c1c1c" textLength="32.9" lengthAdjust="spacingAndGlyphs" stroke="#1c1c1c" stroke-width="0.22">FMNH</text><text x="459.8" y="320.0" font-size="8" font-weight="normal" fill="#1c1c1c" textLength="4.2" lengthAdjust="spacingAndGlyphs">2</text>
<text x="365.4" y="275.6" font-size="5.6" font-weight="bold" fill="#333" textLength="11.4" lengthAdjust="spacingAndGlyphs">NAD</text><text x="377.2" y="273.3" font-size="4" font-weight="normal" fill="#333" textLength="2.6" lengthAdjust="spacingAndGlyphs">+</text>
<text x="376.0" y="288.1" font-size="5.6" font-weight="bold" fill="#D2121E" textLength="14.1" lengthAdjust="spacingAndGlyphs">nLDH</text>
<rect x="376" y="288.6" width="14.1" height="0.6" fill="#D2121E"/>
<text x="363.1" y="301.4" font-size="5.6" font-weight="bold" fill="#333" textLength="16.4" lengthAdjust="spacingAndGlyphs">NADH</text>
<text x="374.5" y="364.2" font-size="11" font-weight="normal" fill="#1c1c1c" textLength="46.4" lengthAdjust="spacingAndGlyphs" stroke="#1c1c1c" stroke-width="0.22">Pyruvate</text>
<text x="329.4" y="397.9" font-size="11" font-weight="normal" fill="#1c1c1c" textLength="39.0" lengthAdjust="spacingAndGlyphs" stroke="#1c1c1c" stroke-width="0.22">CoA-SH</text>
<text x="427.8" y="396.8" font-size="11" font-weight="normal" fill="#1c1c1c" textLength="22.5" lengthAdjust="spacingAndGlyphs" stroke="#1c1c1c" stroke-width="0.22">NAD</text><text x="451.0" y="393.9" font-size="7" font-weight="normal" fill="#1c1c1c" textLength="4.0" lengthAdjust="spacingAndGlyphs">+</text>
<text x="413.7" y="421.5" font-size="11" font-weight="bold" fill="#111" textLength="72.3" lengthAdjust="spacingAndGlyphs">PDH complex</text>
<rect x="413.7" y="423.2" width="72.3" height="1.1" fill="#111"/>
<text x="427.8" y="447.5" font-size="11" font-weight="normal" fill="#1c1c1c" textLength="31.2" lengthAdjust="spacingAndGlyphs" stroke="#1c1c1c" stroke-width="0.22">NADH</text>
<text x="349.2" y="449.2" font-size="11" font-weight="normal" fill="#1c1c1c" textLength="15.8" lengthAdjust="spacingAndGlyphs" stroke="#1c1c1c" stroke-width="0.22">CO</text><text x="365.3" y="452.4" font-size="8" font-weight="normal" fill="#1c1c1c" textLength="4.0" lengthAdjust="spacingAndGlyphs">2</text>
<text x="261.3" y="499.6" font-size="11" font-weight="normal" fill="#1c1c1c" textLength="39.7" lengthAdjust="spacingAndGlyphs" stroke="#1c1c1c" stroke-width="0.22">Acetate</text>
<text x="368.5" y="499.6" font-size="11" font-weight="normal" fill="#1c1c1c" textLength="57.7" lengthAdjust="spacingAndGlyphs" stroke="#1c1c1c" stroke-width="0.22">Acetyl-CoA</text>
<text x="490.8" y="491.3" font-size="11" font-weight="normal" fill="#1c1c1c" textLength="20.1" lengthAdjust="spacingAndGlyphs" stroke="#1c1c1c" stroke-width="0.22">TCA</text>
<text x="491.2" y="506.5" font-size="11" font-weight="normal" fill="#1c1c1c" textLength="27.0" lengthAdjust="spacingAndGlyphs" stroke="#1c1c1c" stroke-width="0.22">Cycle</text>
<text x="332.3" y="240.6" font-size="27.5" font-weight="bold">D</text>
</svg>
</body></html>
